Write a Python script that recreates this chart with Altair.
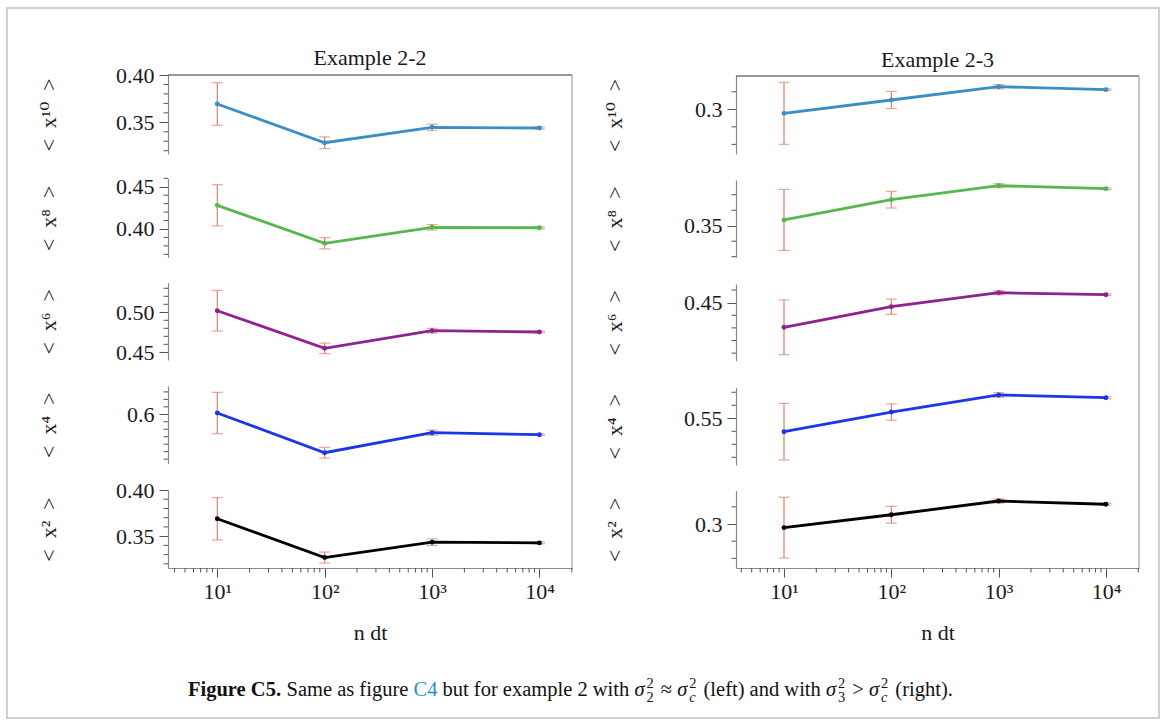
import altair as alt
import pandas as pd
import numpy as np

FONT = "Liberation Serif, DejaVu Serif, serif"

# ---------------- data ----------------
ndt = [10, 100, 1000, 10000]
xtick_values = [10, 100, 1000, 10000]
xtick_labels = ["10¹", "10²", "10³", "10⁴"]

panel_titles = ["Example 2-2", "Example 2-3"]
ylabels = ["<\u2002x¹⁰\u2002>", "<\u2002x⁸\u2002>", "<\u2002x⁶\u2002>", "<\u2002x⁴\u2002>", "<\u2002x²\u2002>"]
colors = ["#3a8ec6", "#55b74e", "#8e228e", "#1a36e6", "#000000"]

# Example 2-2 (left column), means and error half-widths
l_x10 = [0.3693, 0.3284, 0.3447, 0.3440]
l_x10_err = [0.0225, 0.0062, 0.0034, 0.0010]
l_x8 = [0.4280, 0.3831, 0.4020, 0.4015]
l_x8_err = [0.0244, 0.0066, 0.0032, 0.0010]
l_x6 = [0.5020, 0.4550, 0.4770, 0.4754]
l_x6_err = [0.0254, 0.0066, 0.0030, 0.0010]
l_x4 = [0.6017, 0.5486, 0.5754, 0.5727]
l_x4_err = [0.0277, 0.0072, 0.0034, 0.0010]
l_x2 = [0.3688, 0.3268, 0.3435, 0.3427]
l_x2_err = [0.0229, 0.0060, 0.0035, 0.0010]

# Example 2-3 (right column)
r_x10 = [0.2977, 0.3053, 0.3129, 0.3112]
r_x10_err = [0.0177, 0.0049, 0.0012, 0.0005]
r_x8 = [0.3537, 0.3668, 0.3758, 0.3739]
r_x8_err = [0.0197, 0.0054, 0.0013, 0.0006]
r_x6 = [0.4305, 0.4468, 0.4579, 0.4563]
r_x6_err = [0.0217, 0.0060, 0.0016, 0.0006]
r_x4 = [0.5397, 0.5548, 0.5679, 0.5658]
r_x4_err = [0.0217, 0.0063, 0.0018, 0.0007]
r_x2 = [0.2979, 0.3054, 0.3134, 0.3115]
r_x2_err = [0.0177, 0.0049, 0.0012, 0.0005]

means = [[l_x10, l_x8, l_x6, l_x4, l_x2], [r_x10, r_x8, r_x6, r_x4, r_x2]]
errs = [[l_x10_err, l_x8_err, l_x6_err, l_x4_err, l_x2_err],
        [r_x10_err, r_x8_err, r_x6_err, r_x4_err, r_x2_err]]

# y axis domains and labelled ticks
ydoms = [[(0.3165, 0.40), (0.3665, 0.46), (0.4404, 0.537), (0.5344, 0.6379), (0.3155, 0.40)],
         [(0.2745, 0.319), (0.3296, 0.3795), (0.404, 0.4648), (0.5141, 0.5738), (0.2744, 0.3194)]]
ymajor = [[[0.35, 0.40], [0.40, 0.45], [0.45, 0.50], [0.6], [0.35, 0.40]],
          [[0.3], [0.35], [0.45], [0.55], [0.3]]]
yfmt = [[".2f", ".2f", ".2f", ".1f", ".2f"], [".1f", ".2f", ".2f", ".2f", ".1f"]]

# ---------------- layout (pixels) ----------------
H = 493
yranges = [[(79, 0), (182.3, 103.3), (285, 207.7), (388.3, 311), (493, 415)],
           [(79, 1), (182.3, 105), (285.7, 209), (390, 312.3), (493, 415.7)]]
xranges = [(0, 404), (568, 971)]
xdoms = [(3.475, 20090), (3.57, 20320)]
TITLE_X = [-120, -122]

ERR = "#e2806b"
TICK = "#555555"
TXT = "#1a1a1a"


def minor_y(dom, majors):
    lo, hi = dom
    vals = [k / 100 for k in range(int(np.ceil(lo * 100 - 1e-9)), int(np.floor(hi * 100 + 1e-9)) + 1)]
    return [v for v in vals if all(abs(v - m) > 1e-6 for m in majors)]


def minor_x(dom):
    out = []
    for e in range(0, 5):
        for k in range(2, 10):
            v = k * 10 ** e
            if dom[0] <= v <= dom[1]:
                out.append(v)
    return out


xlabel_expr = " : ".join(f"datum.value == {v} ? '{l}'" for v, l in zip(xtick_values, xtick_labels)) + " : ''"

AXIS_STYLE = dict(labelFont=FONT, titleFont=FONT, labelFontSize=22, titleFontSize=22,
                  labelColor=TXT, titleColor=TXT, titleFontWeight="normal",
                  tickColor=TICK, tickWidth=1, domainWidth=1.2, domainColor="#8a8a8a",
                  grid=False, labelFlush=False)


def panel(col, i):
    df = pd.DataFrame({"ndt": ndt, "mean": means[col][i], "err": errs[col][i]})
    df["lo"] = df["mean"] - df["err"]
    df["hi"] = df["mean"] + df["err"]
    xs = alt.Scale(type="log", domain=list(xdoms[col]), range=list(xranges[col]), nice=False)
    ys = alt.Scale(domain=list(ydoms[col][i]), range=list(yranges[col][i]), nice=False, zero=False)
    x0 = xranges[col][0]
    bottom = (i == 4)
    base = alt.Chart(df)

    def X(field):
        if bottom:
            return alt.X(field, scale=xs)
        return alt.X(field, scale=xs, axis=None)

    bars = base.mark_rule(color=ERR, strokeWidth=1.2).encode(
        x=X("ndt:Q"), y=alt.Y("lo:Q", scale=ys), y2="hi:Q")
    cap_lo = base.mark_tick(orient="horizontal", color=ERR, size=11, thickness=1.2).encode(
        x=X("ndt:Q"), y=alt.Y("lo:Q", scale=ys))
    cap_hi = base.mark_tick(orient="horizontal", color=ERR, size=11, thickness=1.2).encode(
        x=X("ndt:Q"), y=alt.Y("hi:Q", scale=ys))

    yaxis = alt.Axis(orient="left", offset=-x0, values=ymajor[col][i], format=yfmt[col][i],
                     tickSize=9, labelPadding=5, title=ylabels[i],
                     titleX=TITLE_X[col], titleBaseline="middle", titleAlign="center",
                     titleAngle=270, **AXIS_STYLE)
    if bottom:
        xaxis = alt.Axis(orient="bottom", values=xtick_values, labelExpr=xlabel_expr, tickSize=9,
                         labelPadding=4, title="n dt", titleY=64,
                         titleBaseline="middle", **AXIS_STYLE)
        xl = alt.X("ndt:Q", scale=xs, axis=xaxis)
    else:
        xl = X("ndt:Q")
    line = base.mark_line(color=colors[i], strokeWidth=2.8).encode(
        x=xl, y=alt.Y("mean:Q", scale=ys, axis=yaxis))
    pts = base.mark_circle(color=colors[i], size=24, opacity=1).encode(
        x=X("ndt:Q"), y=alt.Y("mean:Q", scale=ys))
    mdf = pd.DataFrame({"v": minor_y(ydoms[col][i], ymajor[col][i])})
    minor = alt.Chart(mdf).mark_rule(color=TICK, strokeWidth=1).encode(
        y=alt.Y("v:Q", scale=ys), x=alt.value(x0), x2=alt.value(x0 - 4.5))
    layers = [bars, cap_lo, cap_hi, line, pts, minor]
    if bottom:
        xm = pd.DataFrame({"v": minor_x(xdoms[col])})
        layers.append(alt.Chart(xm).mark_rule(color=TICK, strokeWidth=1).encode(
            x=alt.X("v:Q", scale=xs), y=alt.value(H), y2=alt.value(H + 4.5)))
    return alt.layer(*layers)


panels = [panel(c, i) for c in range(2) for i in range(5)]

one = pd.DataFrame({"a": [0]})
frame_lines = [
    alt.Chart(one).mark_rule(color="#333333", strokeWidth=1.2).encode(
        x=alt.value(xranges[0][0]), x2=alt.value(xranges[0][1]), y=alt.value(0)),
    alt.Chart(one).mark_rule(color="#333333", strokeWidth=1.2).encode(
        x=alt.value(xranges[1][0]), x2=alt.value(xranges[1][1]), y=alt.value(1)),
    alt.Chart(one).mark_rule(color="#a0a0a0", strokeWidth=1.2).encode(
        x=alt.value(xranges[0][1]), y=alt.value(0), y2=alt.value(H)),
    alt.Chart(one).mark_rule(color="#a0a0a0", strokeWidth=1.2).encode(
        x=alt.value(xranges[1][1]), y=alt.value(1), y2=alt.value(H)),
    alt.Chart(one).mark_rect(fillOpacity=0, stroke="#cfcfcf", strokeWidth=2).encode(
        x=alt.value(-161), x2=alt.value(991), y=alt.value(-67), y2=alt.value(643)),
]

titles = alt.Chart(pd.DataFrame({
    "t": panel_titles,
    "px": [(xranges[0][0] + xranges[0][1]) / 2, (xranges[1][0] + xranges[1][1]) / 2],
    "py": [-17, -15],
})).mark_text(font=FONT, fontSize=22, color=TXT, baseline="middle").encode(
    text="t:N", x=alt.X("px:Q", scale=None), y=alt.Y("py:Q", scale=None))

# ---------------- caption ----------------
REG = {' ': 250, 'S': 556, 'a': 444, 'm': 778, 'e': 444, 's': 389, 'f': 333, 'i': 278, 'g': 500,
       'u': 500, 'r': 333, 'C': 667, 'b': 500, 't': 278, 'o': 500, 'x': 500, 'p': 500, 'l': 278,
       'w': 722, 'h': 500, 'n': 500, 'd': 500, '(': 333, ')': 333, '.': 250, '≈': 549, '>': 564,
       'F': 556, 'c': 444, 'σ': 540}
BOLD = {'F': 611, 'i': 278, 'g': 500, 'u': 556, 'r': 444, 'e': 444, ' ': 250, 'C': 722, '.': 250}


def tw(s, table, size):
    return sum(table.get(ch, 500) for ch in s) / 1000 * size


CS = 20.5
CX0 = 20
CY = 621
caption_parts = [
    ("Figure C5.", "bold"), (" Same as figure ", "reg"), ("C4", "blue"),
    (" but for example 2 with ", "reg"), ("σ", "ital"), (("2", "2"), "subsup"),
    (" ≈ ", "reg"), ("σ", "ital"), (("c", "2"), "subsup"),
    (" (left) and with ", "reg"), ("σ", "ital"), (("3", "2"), "subsup"),
    (" > ", "reg"), ("σ", "ital"), (("c", "2"), "subsup"), (" (right).", "reg"),
]
rows = {"bold": [], "reg": [], "blue": [], "ital": [], "small": [], "smallital": []}
cx = CX0
for txt, kind in caption_parts:
    if kind == "subsup":
        sub, sup = txt
        ss = CS * 0.7
        rows["smallital" if sub == "c" else "small"].append({"t": sub, "px": cx + 1, "py": CY + 0.28 * CS})
        rows["small"].append({"t": sup, "px": cx + 1, "py": CY - 0.40 * CS})
        cx += max(tw(sub, REG, ss), tw(sup, REG, ss)) + 3
        continue
    table = BOLD if kind == "bold" else REG
    lead = len(txt) - len(txt.lstrip(" "))
    rows[kind].append({"t": txt.strip(" "), "px": cx + tw(" " * lead, table, CS), "py": CY})
    cx += tw(txt, table, CS)


def caption_layer(key, **kw):
    return alt.Chart(pd.DataFrame(rows[key])).mark_text(
        font=FONT, align="left", baseline="alphabetic", **kw).encode(
        text="t:N", x=alt.X("px:Q", scale=None), y=alt.Y("py:Q", scale=None))


caption = [
    caption_layer("bold", fontSize=CS, fontWeight="bold", color="#111111"),
    caption_layer("reg", fontSize=CS, color="#111111"),
    caption_layer("blue", fontSize=CS, color="#2a8fc4"),
    caption_layer("ital", fontSize=CS, fontStyle="italic", color="#111111"),
    caption_layer("small", fontSize=CS * 0.7, color="#111111"),
    caption_layer("smallital", fontSize=CS * 0.7, fontStyle="italic", color="#111111"),
]

chart = alt.layer(*panels, *frame_lines, titles, *caption).resolve_scale(
    x="independent", y="independent"
).properties(
    width=971, height=H,
    autosize=alt.AutoSizeParams(type="none"),
    padding={"left": 168, "top": 75, "right": 28, "bottom": 160},
    background="white",
).configure_axis(
    labelFont=FONT, titleFont=FONT, grid=False,
).configure_view(stroke=None)

chart.save("out.html", embed_options={"renderer": "svg", "actions": False})
